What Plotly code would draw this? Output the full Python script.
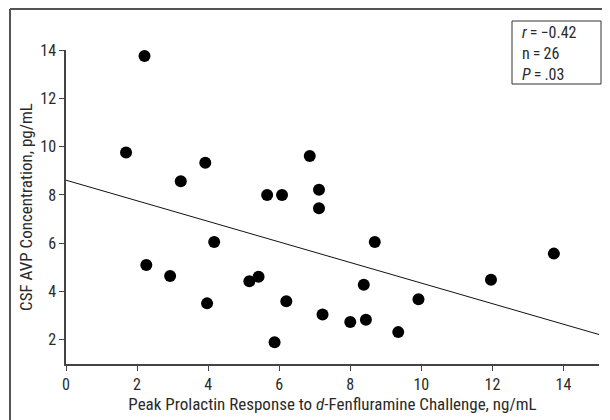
import plotly.graph_objects as go

# Data
prolactin = [1.69, 2.21, 3.23, 3.92, 5.66, 6.08, 6.86, 7.12, 7.12, 2.26, 2.93, 4.17, 3.97,
             5.16, 5.42, 6.20, 5.87, 8.69, 8.38, 7.22, 8.00, 8.44, 9.35, 9.92, 11.96, 13.73]
avp = [9.76, 13.75, 8.57, 9.33, 8.00, 8.00, 9.61, 8.21, 7.45, 5.10, 4.64, 6.05, 3.51,
       4.43, 4.61, 3.60, 1.90, 6.05, 4.28, 3.05, 2.74, 2.83, 2.32, 3.68, 4.49, 5.57]
fit_x = [0, 15]
fit_intercept = 8.61
fit_slope = -0.426
fit_y = [fit_intercept + fit_slope * v for v in fit_x]
x_ticks = [0, 2, 4, 6, 8, 10, 12, 14]
y_ticks = [2, 4, 6, 8, 10, 12, 14]
stats_lines = ["<i>r</i>\u2009=\u2009−0.42", "n\u2009=\u200926", "<i>P</i>\u2009=\u2009.03"]

FONT = "Liberation Sans Narrow, Arial Narrow, Roboto Condensed, Liberation Sans, sans-serif"
TXT = "#2a2a2a"

fig = go.Figure()
fig.add_trace(go.Scatter(x=fit_x, y=fit_y, mode="lines",
                         line=dict(color="#111", width=1), hoverinfo="skip"))
fig.add_trace(go.Scatter(x=prolactin, y=avp, mode="markers",
                         marker=dict(color="#000", size=12, line=dict(width=0))))

# the page body has an 8px margin; work in page pixel coordinates and compensate
OFF = 8
W, H = 610 - OFF, 420 - OFF
L, R, T, B = 66 - OFF, 11, 50 - OFF, 56
pw, ph = W - L - R, H - T - B


def px(x):
    return (x - OFF - L) / pw


def py(y):
    return (H - B - (y - OFF)) / ph


axis_common = dict(showgrid=False, zeroline=False, showline=True, linecolor="#444",
                   linewidth=1.5, ticks="outside", ticklen=5, tickcolor="#444",
                   tickwidth=1.2, automargin=False,
                   tickfont=dict(family=FONT, size=16, color=TXT),
                   title_font=dict(family=FONT, size=17, color=TXT))

fig.update_layout(
    width=W, height=H, showlegend=False,
    margin=dict(l=L, r=R, t=T, b=B),
    paper_bgcolor="white", plot_bgcolor="white",
    xaxis=dict(range=[0, 15], tickvals=x_ticks,
               title=dict(text="Peak Prolactin Response to <i>d</i>-Fenfluramine Challenge, ng/mL",
                          standoff=0),
               **axis_common),
    yaxis=dict(range=[1, 14], tickvals=y_ticks,
               title=dict(text="CSF AVP Concentration, pg/mL", standoff=3),
               **axis_common),
    shapes=[
        dict(type="line", xref="paper", yref="paper", x0=px(10), x1=px(620), y0=py(9), y1=py(9),
             line=dict(color="#555", width=2)),
        dict(type="line", xref="paper", yref="paper", x0=px(10), x1=px(10), y0=py(9), y1=py(430),
             line=dict(color="#555", width=2)),
        dict(type="rect", xref="paper", yref="paper", x0=px(512), x1=px(601), y0=py(21), y1=py(84),
             line=dict(color="#333", width=1), fillcolor="white"),
    ],
    annotations=[
        dict(xref="paper", yref="paper", x=px(520), y=py(53), xanchor="left", yanchor="middle",
             align="left", showarrow=False, text="<br>".join(stats_lines),
             font=dict(family=FONT, size=16, color=TXT)),
    ],
)

fig.write_html("out.html")
